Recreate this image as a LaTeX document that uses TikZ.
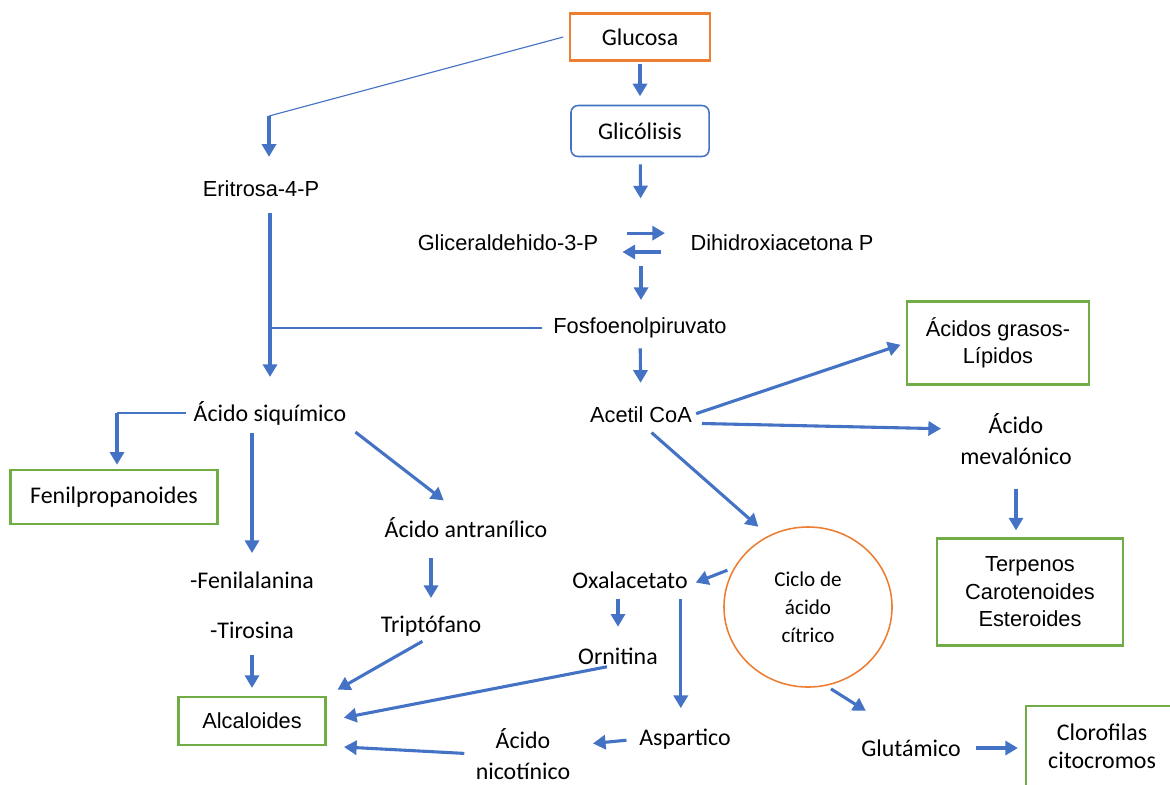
\documentclass[tikz,border=0pt]{standalone}
\usepackage{fontspec}
\setmainfont{Liberation Sans}
\newfontfamily\calfont{Carlito}
\usepackage{xcolor}
\definecolor{oblue}{RGB}{68,114,196}
\definecolor{oorange}{RGB}{237,125,49}
\definecolor{ogreen}{RGB}{112,173,71}
\usepackage{tikz}
\usetikzlibrary{arrows.meta,shapes.geometric,calc}

\begin{document}
\begin{tikzpicture}[
  x=0.025cm,y=-0.025cm,
  atext/.style={font=\fontsize{15.5}{19}\selectfont,inner sep=0pt,align=center},
  ctext/.style={font=\calfont\fontsize{17}{22}\selectfont,inner sep=0pt,align=center},
  obox/.style={rectangle,draw=oorange,line width=1.5pt,minimum width=3.5cm,minimum height=1.175cm},
  bbox/.style={rectangle,draw=oblue,rounded corners=5pt,line width=1.1pt,minimum width=3.45cm,minimum height=1.275cm},
  gbox/.style={rectangle,draw=ogreen,line width=1.5pt},
  arrow/.style={-{Triangle[length=9pt,width=10pt]},line width=2.2pt,oblue},
  link/.style={line width=0.8pt,oblue}
]
  \useasboundingbox (0,0) rectangle (1170,784);
  \clip (0,0) rectangle (1170,784);
  \fill[white] (0,0) rectangle (1170,784);

  \node[obox,ctext] (glu) at (640,37) {Glucosa};
  \node[bbox,ctext] (gli) at (640,131) {Glicólisis};
  \coordinate (eq) at (641,242);
  \node[atext] (g3p) at (508,243) {Gliceraldehido-3-P};
  \node[atext] (dhap) at (782,243) {Dihidroxiacetona P};
  \node[atext] (pep) at (640,328) {Fosfoenolpiruvato};
  \node[atext] (aco) at (641,415) {Acetil CoA};
  \node[atext] (eri) at (261,189) {Eritrosa-4-P};
  \coordinate (eritop) at (269,116);
  \node[ctext] (siq) at (270,413) {Ácido siquímico};
  \coordinate (fpc) at (117,413);
  \node[gbox,ctext,minimum width=5.175cm,minimum height=1.35cm] (fp) at (114,497) {Fenilpropanoides};
  \node[ctext] (phe) at (252,580) {-Fenilalanina};
  \node[ctext] (tyr) at (252,630) {-Tirosina};
  \node[ctext] (ant) at (466,528) {Ácido antranílico};
  \node[ctext] (trp) at (431,626) {Triptófano};
  \node[gbox,atext,minimum width=3.675cm,minimum height=1.2cm] (alc) at (252,721) {Alcaloides};
  \node[ctext] (oxa) at (630,580) {Oxalacetato};
  \node[ctext] (orn) at (618,656) {Ornitina};
  \node[ctext] (asp) at (685,739) {Aspartico};
  \node[ctext] (nic) at (523,754) {Ácido\\nicotínico};
  \node[ellipse,draw=oorange,line width=1.1pt,minimum width=4.2cm,minimum height=4cm,
    font=\calfont\fontsize{15}{20}\selectfont,align=center] (tca) at (808,607) {Ciclo de\\ácido\\cítrico};
  \node[ctext] (glt) at (911,748) {Glutámico};
  \node[gbox,ctext,font=\calfont\fontsize{17}{20}\selectfont,minimum width=3.8cm,minimum height=2cm] (clo) at (1102,746) {Clorofilas\\citocromos};
  \node[gbox,atext,minimum width=4.55cm,minimum height=2.075cm] (fa) at (998,343) {Ácidos grasos-\\Lípidos};
  \node[ctext] (mev) at (1016,439) {Ácido\\mevalónico};
  \node[gbox,atext,font=\fontsize{15.5}{19.6}\selectfont,minimum width=4.65cm,minimum height=2.675cm] (ter) at (1030,592) {Terpenos\\Carotenoides\\Esteroides};

  \draw[arrow,shorten <=1.5pt,shorten >=6pt] (glu) -- (gli);
  \draw[arrow,shorten <=5pt,shorten >=31pt] (gli) -- (eq);
  \draw[arrow,shorten <=20pt,shorten >=18pt] ([yshift=7pt]g3p.east) -- ([yshift=7pt]dhap.west);
  \draw[arrow,shorten <=21pt,shorten >=17pt] ([yshift=-6.4pt]dhap.west) -- ([yshift=-6.4pt]g3p.east);
  \draw[arrow,shorten <=17pt,shorten >=12.5pt] (eq) -- (eq |- pep.north);
  \draw[arrow,shorten <=7pt,shorten >=17pt] (pep) -- (aco);

  \draw[link] ([xshift=-4pt]glu.west) -- (eritop);
  \draw[arrow,shorten >=17pt] (eritop) -- (eritop |- eri.north);
  \draw[arrow,shorten <=11pt,shorten >=17pt] (eri.south -| siq) -- (siq);
  \draw[link,shorten <=8pt] (pep.west) -- (pep.west -| siq);
  \draw[link] ([xshift=-5.5pt]siq.west) -- (fpc);
  \draw[arrow,shorten >=3pt] (fpc) -- (fpc |- fp.north);
  \draw[arrow,shorten <=5.5pt,shorten >=13pt] (siq.south -| phe) -- (phe);
  \draw[arrow,shorten <=11.7pt,shorten >=5.7pt] (tyr) -- (tyr |- alc.north);
  \draw[arrow,shorten <=8pt,shorten >=20pt] (siq.south east) -- (ant.north);
  \draw[arrow,shorten <=14pt,shorten >=12.5pt] (ant.south -| trp) -- (trp);
  \draw[arrow,shorten <=7pt,shorten >=9pt] (trp.south) -- (alc.north east);
  \draw[arrow,shorten <=8pt,shorten >=12.5pt] (orn.south) -- (alc.east);
  \draw[arrow,shorten <=8pt,shorten >=12.4pt] (nic.west) -- (alc.south east);
  \draw[arrow,shorten <=9pt,shorten >=16pt] (asp.west) -- (nic.10);
  \draw[arrow,shorten <=7pt,shorten >=14.7pt] (oxa.south -| orn) -- (orn);
  \draw[arrow,shorten <=7.6pt,shorten >=14.5pt] ([xshift=-3pt]oxa.south -| asp) -- ([xshift=-3pt]asp.north);

  \draw[arrow,shorten <=3pt,shorten >=4pt] (aco.east) -- (fa.west);
  \draw[arrow,shorten <=7pt,shorten >=13.5pt] (aco.south east) -- (mev.170);
  \draw[arrow,shorten <=17pt,shorten >=5pt] (mev.south) -- (mev.south |- ter.north);
  \draw[arrow,shorten <=10pt,shorten >=9.5pt] (aco.south) -- (tca.119);
  \draw[arrow,shorten <=5pt,shorten >=6pt] (tca.152) -- ([yshift=-4pt]oxa.east);
  \draw[arrow,shorten <=4pt,shorten >=38pt] (tca.-77) -- (glt.north);
  \draw[arrow,shorten <=11pt,shorten >=5pt] (glt.east) -- (glt.east -| clo.west);
\end{tikzpicture}
\end{document}
